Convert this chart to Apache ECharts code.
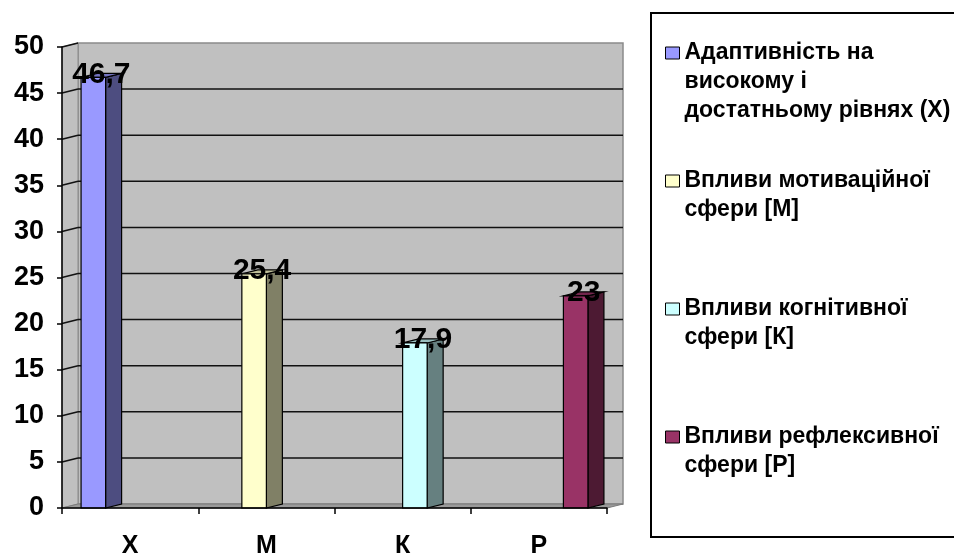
<!DOCTYPE html>
<html>
<head>
<meta charset="utf-8">
<script src="https://cdn.jsdelivr.net/npm/echarts@6/dist/echarts.min.js"></script>
<style>
  html, body { margin: 0; padding: 0; background: #fff; }
  #chart { width: 954px; height: 558px; }
</style>
</head>
<body>
<div id="chart"></div>
<script>
// Categories on the x axis and one series per category
const categories = ['Х', 'М', 'К', 'Р'];
const seriesNames = [
  'Адаптивність на\nвисокому і\nдостатньому рівнях (Х)',
  'Впливи мотиваційної\nсфери [М]',
  'Впливи когнітивної\nсфери [К]',
  'Впливи рефлексивної\nсфери [Р]'
];
const values = [46.7, 25.4, 17.9, 23];
const yTicks = [0, 5, 10, 15, 20, 25, 30, 35, 40, 45, 50];

// Face colours of the pseudo-3D columns
const frontColors = ['#9999FF', '#FFFFCC', '#CCFFFF', '#993366'];
const sideColors  = ['#4D4D80', '#808066', '#668080', '#4D1A33'];
const topColors   = ['#7373BF', '#BFBF99', '#99BFBF', '#73264D'];

const FONT = '"Liberation Sans", Arial, sans-serif';
const DEPTH = [16, -4];           // screen offset of the back plane
const SLOT_START = 0.14;          // first column offset inside a category band
const SLOT_WIDTH = 0.18;          // column width as a share of the band

const fmt = v => String(v).replace('.', ',');

// Walls, floor and back-wall gridlines
function renderWalls(params, api) {
  const cs = params.coordSys;
  const [dx, dy] = DEPTH;
  const xl = cs.x, xr = cs.x + cs.width;
  const yt = api.coord([0, yTicks[yTicks.length - 1]])[1];
  const yb = api.coord([0, yTicks[0]])[1];
  const children = [
    { type: 'rect', shape: { x: xl + dx, y: yt + dy, width: xr - xl, height: yb - yt },
      style: { fill: '#C0C0C0', stroke: '#8A8A8A', lineWidth: 1.5 } },
    { type: 'polygon', shape: { points: [[xl, yt], [xl + dx, yt + dy], [xl + dx, yb + dy], [xl, yb]] },
      style: { fill: '#C0C0C0', stroke: '#8A8A8A', lineWidth: 1 } },
    { type: 'polygon', shape: { points: [[xl, yb], [xl + dx, yb + dy], [xr + dx, yb + dy], [xr, yb]] },
      style: { fill: '#9A9A9A', stroke: '#7A7A7A', lineWidth: 1 } }
  ];
  yTicks.forEach((t, i) => {
    const y = api.coord([0, t])[1];
    if (i > 0 && i < yTicks.length - 1) {
      children.push({ type: 'line', shape: { x1: xl + dx, y1: y + dy, x2: xr + dx, y2: y + dy },
        style: { stroke: '#111', lineWidth: 1.5 } });
    }
    if (i > 0) {
      children.push({ type: 'line', shape: { x1: xl, y1: y, x2: xl + dx, y2: y + dy },
        style: { stroke: '#111', lineWidth: 1.5 } });
    }
  });
  return { type: 'group', children };
}

// One pseudo-3D column: side face, top face, front face and value label
function makeBarRenderer(slot) {
  return function (params, api) {
    const cat = api.value(0);
    const val = api.value(1);
    const band = api.size([1, 0])[0];
    const base = api.coord([cat, 0]);
    const top = api.coord([cat, val]);
    const w = band * SLOT_WIDTH;
    const xL = base[0] - band / 2 + band * (SLOT_START + SLOT_WIDTH * slot);
    const xR = xL + w;
    const y0 = base[1], y1 = top[1];
    const [dx, dy] = DEPTH;
    return {
      type: 'group',
      children: [
        { type: 'polygon', shape: { points: [[xR, y1], [xR + dx, y1 + dy], [xR + dx, y0 + dy], [xR, y0]] },
          style: { fill: sideColors[slot], stroke: '#000', lineWidth: 1.2 } },
        { type: 'polygon', shape: { points: [[xL, y1], [xR, y1], [xR + dx, y1 + dy], [xL + dx, y1 + dy]] },
          style: { fill: topColors[slot], stroke: '#000', lineWidth: 1.2 } },
        { type: 'rect', shape: { x: xL, y: y1, width: w, height: y0 - y1 },
          style: { fill: frontColors[slot], stroke: '#000', lineWidth: 1.2 } },
        { type: 'text', z2: 20,
          style: { text: fmt(val), x: (xL + xR + dx) / 2, y: y1 - 3, align: 'center', verticalAlign: 'middle',
                   fill: '#000', font: 'bold 30px ' + FONT } }
      ]
    };
  };
}

// Legend entries: the first text line sits beside the marker, every entry
// takes the same block height so the entries are evenly spaced.
const LINE_H = 29;
const MAX_LINES = 3;
const BLOCK_LINES = 2 * MAX_LINES - 1;
const ENTRY_STEP = 128;
const ICON_H = 12;
const LEGEND_PAD = 5;
const FIRST_ICON_CENTER = 53;

function legendText(name) {
  const lines = name.split('\n').length;
  return '\n'.repeat(MAX_LINES - 1) + name + '\n'.repeat(MAX_LINES - lines);
}

const option = {
  backgroundColor: '#fff',
  animation: false,
  grid: { left: 62, right: 347, top: 47, bottom: 50, outerBoundsMode: 'none' },
  xAxis: {
    type: 'category',
    data: categories,
    z: 5,
    axisLine: { show: true, lineStyle: { color: '#000', width: 1.5 } },
    axisTick: { show: true, alignWithLabel: false, length: 6, lineStyle: { color: '#000', width: 1.5 } },
    axisLabel: { color: '#000', fontFamily: FONT, fontWeight: 'bold', fontSize: 25, margin: 26 },
    splitLine: { show: false }
  },
  yAxis: {
    type: 'value',
    min: yTicks[0],
    max: yTicks[yTicks.length - 1],
    interval: yTicks[1] - yTicks[0],
    z: 5,
    axisLine: { show: true, lineStyle: { color: '#000', width: 1.5 } },
    axisTick: { show: true, length: 5, lineStyle: { color: '#000', width: 1.5 } },
    axisLabel: { color: '#000', fontFamily: FONT, fontWeight: 'bold', fontSize: 27, margin: 18 },
    splitLine: { show: false }
  },
  legend: {
    orient: 'vertical',
    left: 660,
    top: FIRST_ICON_CENTER - ICON_H / 2 - (BLOCK_LINES * LINE_H / 2 - ICON_H / 2) - LEGEND_PAD,
    height: 700,
    padding: LEGEND_PAD,
    itemWidth: 14,
    itemHeight: ICON_H,
    itemGap: ENTRY_STEP - BLOCK_LINES * LINE_H,
    selectedMode: false,
    formatter: legendText,
    itemStyle: { borderColor: '#000', borderWidth: 1 },
    textStyle: { fontFamily: FONT, fontSize: 23, fontWeight: 'bold', color: '#000', lineHeight: LINE_H },
    data: seriesNames.map((n, i) => ({
      name: n,
      icon: 'rect',
      itemStyle: { color: frontColors[i] }
    }))
  },
  graphic: [{
    type: 'rect',
    z: -1,
    shape: { x: 651, y: 13, width: 340, height: 524 },
    style: { fill: '#fff', stroke: '#000', lineWidth: 2 }
  }],
  series: [
    {
      type: 'custom',
      name: 'walls',
      silent: true,
      z: 1,
      clip: false,
      renderItem: renderWalls,
      data: [[categories[0], 0]],
      encode: { x: 0, y: 1 }
    }
  ].concat(seriesNames.map((n, i) => ({
    type: 'custom',
    name: n,
    z: 2,
    clip: false,
    itemStyle: { color: frontColors[i] },
    renderItem: makeBarRenderer(i),
    data: [[categories[i], values[i]]],
    encode: { x: 0, y: 1 }
  })))
};

const chart = echarts.init(document.getElementById('chart'), null, { renderer: 'canvas' });
chart.setOption(option);
</script>
</body>
</html>
